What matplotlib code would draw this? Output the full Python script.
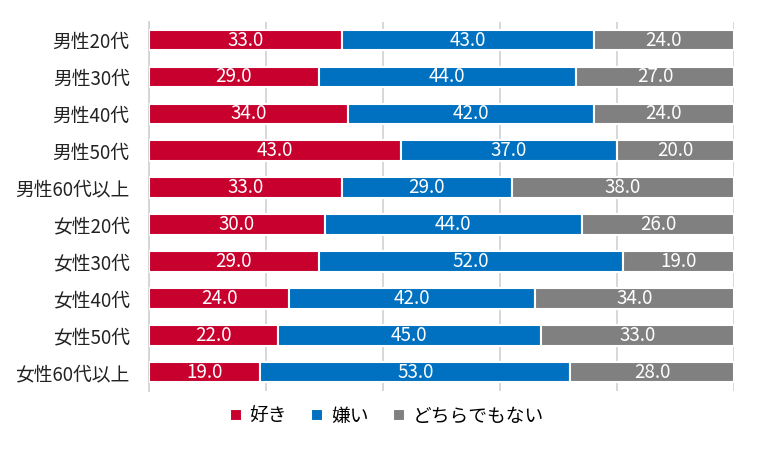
import matplotlib
matplotlib.use("Agg")
import matplotlib.pyplot as plt
import numpy as np

plt.rcParams['font.family'] = ['Noto Sans CJK JP', 'DejaVu Sans']

categories = ["男性20代", "男性30代", "男性40代", "男性50代", "男性60代以上",
              "女性20代", "女性30代", "女性40代", "女性50代", "女性60代以上"]
like = [33.0, 29.0, 34.0, 43.0, 33.0, 30.0, 29.0, 24.0, 22.0, 19.0]
dislike = [43.0, 44.0, 42.0, 37.0, 29.0, 44.0, 52.0, 42.0, 45.0, 53.0]
neither = [24.0, 27.0, 24.0, 20.0, 38.0, 26.0, 19.0, 34.0, 33.0, 28.0]
series_names = ["好き", "嫌い", "どちらでもない"]
colors = ["#C8002D", "#0070C0", "#808080"]

fig = plt.figure(figsize=(7.58, 4.5), dpi=100)
ax = fig.add_axes([0.1966, 0.132, 0.7717, 0.82])

y = np.arange(len(categories))
left = np.zeros(len(categories))
handles = []
for vals, name, c in zip([like, dislike, neither], series_names, colors):
    vals = np.array(vals)
    bars = ax.barh(y, vals, left=left, height=0.56, color=c, edgecolor="white",
                   linewidth=1.5, label=name, zorder=3)
    for yi, l, v in zip(y, left, vals):
        ax.text(l + v / 2, yi, f"{v:.1f}", ha="center", va="center",
                color="white", fontsize=13.5, zorder=4)
    left += vals
    handles.append(bars)

ax.set_xlim(0, 100)
ax.set_ylim(len(categories) - 0.5, -0.5)
ax.set_yticks(y)
ax.set_yticklabels(categories, fontsize=13.5, color="#222222")
ax.set_xticks([0, 20, 40, 60, 80, 100])
ax.tick_params(axis="x", length=0, labelbottom=False)
ax.tick_params(axis="y", length=0, pad=14)
ax.grid(axis="x", color="#d4d4d4", linewidth=1.3, linestyle="-", zorder=0)
for s in ["top", "right", "bottom"]:
    ax.spines[s].set_visible(False)
ax.spines["left"].set_color("#d4d4d4")
ax.spines["left"].set_linewidth(1.3)

fig.legend(handles=handles, labels=series_names, loc="center", bbox_to_anchor=(0.51, 0.075),
           ncol=3, frameon=False, fontsize=13.5, handlelength=0.65, handleheight=0.65,
           handletextpad=0.4, columnspacing=1.3)

fig.savefig("out.png", dpi=100)
